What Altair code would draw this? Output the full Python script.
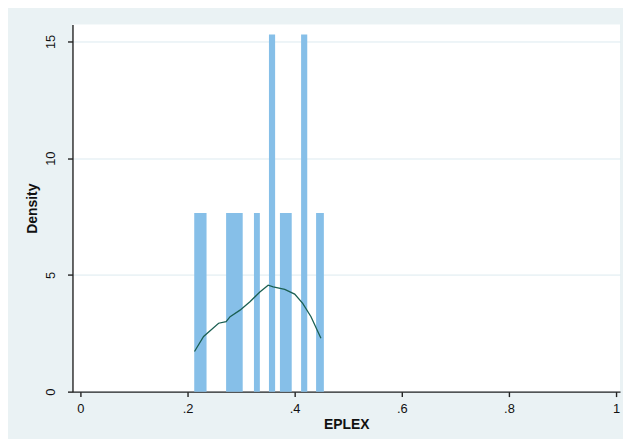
import altair as alt
import pandas as pd

# Histogram bars (bin edges in EPLEX units, density heights)
bin_left = [0.2125, 0.2720, 0.3240, 0.3520, 0.3725, 0.4120, 0.4400]
bin_right = [0.2355, 0.3030, 0.3350, 0.3635, 0.3945, 0.4235, 0.4545]
bar_density = [7.65, 7.65, 7.65, 15.3, 7.65, 15.3, 7.65]

# Kernel density curve
kd_x = [0.2130, 0.2300, 0.2580, 0.2720, 0.2795, 0.2980, 0.3165, 0.3350,
        0.3505, 0.3600, 0.3815, 0.4000, 0.4150, 0.4305, 0.4490]
kd_y = [1.72, 2.36, 2.93, 3.00, 3.21, 3.49, 3.85, 4.27,
        4.56, 4.49, 4.38, 4.18, 3.78, 3.21, 2.29]

x_ticks = [0, 0.2, 0.4, 0.6, 0.8, 1]
y_ticks = [0, 5, 10, 15]

bars = pd.DataFrame({"x": bin_left, "x2": bin_right, "d": bar_density})
kde = pd.DataFrame({"x": kd_x, "y": kd_y})

xscale = alt.Scale(domain=[-0.0148, 1.0074], nice=False, zero=False)
yscale = alt.Scale(domain=[0, 15.72], nice=False)

x_axis = alt.Axis(
    values=x_ticks,
    title="EPLEX",
    labelExpr="datum.value == 0 ? '0' : datum.value == 1 ? '1' : replace(format(datum.value, '.1f'), '0.', '.')",
    grid=False,
    tickSize=5,
    labelPadding=6,
    titlePadding=2,
)
y_axis = alt.Axis(
    values=y_ticks,
    title="Density",
    grid=True,
    tickSize=5,
    labelAngle=270,
    labelAlign="center",
    labelBaseline="bottom",
    labelPadding=10,
    titlePadding=5,
)

bar_layer = alt.Chart(bars).mark_rect(color="#86BFE8").encode(
    x=alt.X("x:Q", scale=xscale, axis=x_axis),
    x2="x2:Q",
    y=alt.Y("d:Q", scale=yscale, axis=y_axis),
    y2=alt.datum(0),
)

line_layer = alt.Chart(kde).mark_line(color="#1B5F52", strokeWidth=1.3).encode(
    x=alt.X("x:Q", scale=xscale),
    y=alt.Y("y:Q", scale=yscale),
)

chart = (
    alt.layer(bar_layer, line_layer)
    .properties(
        width=552,
        height=370,
        autosize=alt.AutoSizeParams(type="none"),
        padding={"left": 65, "top": 15, "right": 3, "bottom": 46},
        background="#EAF2F4",
    )
    .configure_view(fill="white", stroke=None)
    .configure_axis(
        domainColor="#222222",
        domainWidth=1.4,
        tickColor="#222222",
        tickWidth=1.4,
        gridColor="#DCEAF0",
        gridWidth=1,
        labelFont="Liberation Sans",
        titleFont="Liberation Sans",
        labelFontSize=13,
        titleFontSize=14,
        titleFontWeight="bold",
        labelColor="#111111",
        titleColor="#111111",
    )
)

chart.save("out.html", embed_options={"renderer": "svg", "actions": False})
